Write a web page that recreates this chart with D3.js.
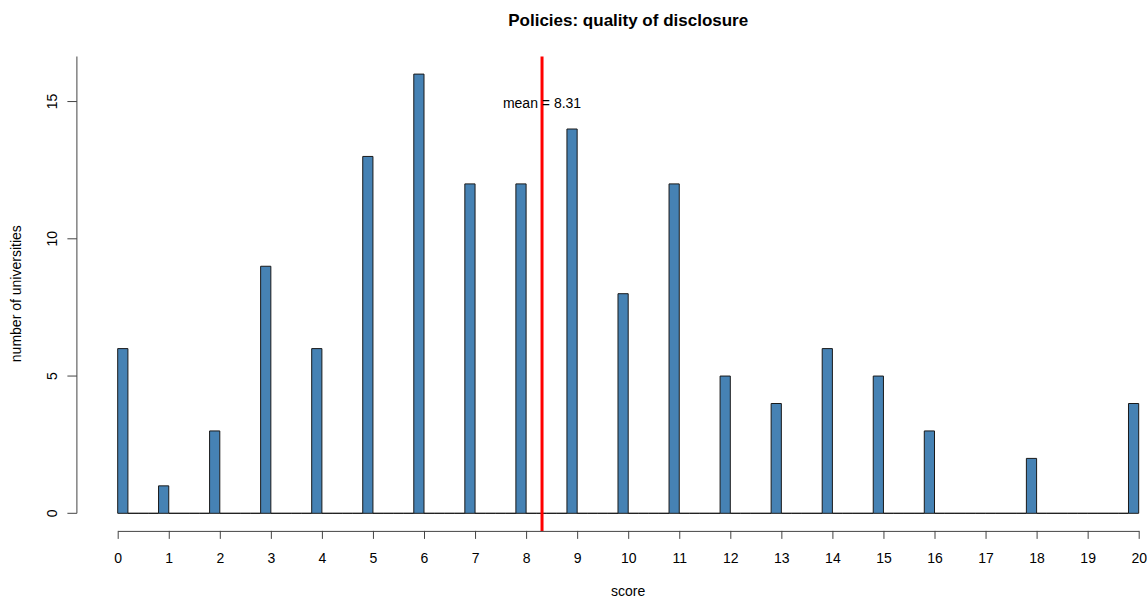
<!DOCTYPE html>
<html>
<head>
<meta charset="utf-8">
<script src="https://cdn.jsdelivr.net/npm/d3@7/dist/d3.min.js"></script>
<style>
  html, body { margin: 0; padding: 0; background: #ffffff; }
  svg { display: block; font-family: "Liberation Sans", Arial, Helvetica, sans-serif; }
</style>
</head>
<body>
<svg id="chart" width="1147" height="599"></svg>
<script>
// Disclosure-quality scores and how many universities got each one
const scores = [0, 1, 2, 3, 4, 5, 6, 7, 8, 9, 10, 11, 12, 13, 14, 15, 16, 17, 18, 19, 20];
const counts = [6, 1, 3, 9, 6, 13, 16, 12, 12, 14, 8, 12, 5, 4, 6, 5, 3, 0, 2, 0, 4];
const xTicks = [0, 1, 2, 3, 4, 5, 6, 7, 8, 9, 10, 11, 12, 13, 14, 15, 16, 17, 18, 19, 20];
const yTicks = [0, 5, 10, 15];
const binWidth = 0.2;

const titleText = "Policies: quality of disclosure";
const xLabel = "score";
const yLabel = "number of universities";

const svg = d3.select("#chart");

// Plot area
const plotTop = 56.5, plotBottom = 530.9, plotLeft = 76.9;
const x = d3.scaleLinear().domain([0, 20]).range([117.7, 1138.7]);
const y = d3.scaleLinear().domain([0, 16]).range([513.3, 74.1]);

// Histogram bins of width 0.2, right-closed (first bin also holds 0)
const nBins = Math.round(20 / binWidth);
const bins = d3.range(nBins).map(j => ({ x0: j * binWidth, x1: (j + 1) * binWidth, n: 0 }));
scores.forEach((s, i) => {
  const j = s === 0 ? 0 : Math.round(s / binWidth) - 1;
  bins[j].n += counts[i];
});

svg.append("g")
  .selectAll("path")
  .data(bins)
  .join("path")
  .attr("d", b => {
    const x0 = x(b.x0), x1 = x(b.x1), y0 = y(0), y1 = y(b.n);
    return `M${x0},${y0}V${y1}H${x1}V${y0}Z`;
  })
  .attr("fill", "#4682B4")
  .attr("stroke", "#1a1a1a")
  .attr("stroke-width", 1);

// Mean line
const total = d3.sum(counts);
const mean = d3.sum(scores, (s, i) => s * counts[i]) / total;
svg.append("line")
  .attr("x1", x(mean)).attr("x2", x(mean))
  .attr("y1", plotTop).attr("y2", plotBottom)
  .attr("stroke", "#ff0000")
  .attr("stroke-width", 3);

svg.append("text")
  .attr("x", x(mean))
  .attr("y", y(15) + 6.5)
  .attr("text-anchor", "middle")
  .attr("font-size", 14)
  .attr("fill", "#000")
  .text("mean = " + mean.toFixed(2));

// X axis
const xAxis = svg.append("g")
  .attr("transform", `translate(0,${plotBottom})`)
  .call(d3.axisBottom(x).tickValues(xTicks).tickSize(8).tickSizeOuter(0).tickPadding(14)
    .tickFormat(d3.format("d")));
xAxis.select(".domain").attr("stroke", "#444");
xAxis.selectAll(".tick line").attr("stroke", "#444");
xAxis.selectAll(".tick text").attr("font-size", 14).attr("fill", "#000")
  .attr("font-family", "Liberation Sans, Arial, sans-serif");

// Y axis (line runs from 0 up to the top of the plot area)
const yAxis = svg.append("g")
  .attr("transform", `translate(${plotLeft},0)`);
yAxis.append("line")
  .attr("x1", 0).attr("x2", 0)
  .attr("y1", y(0)).attr("y2", plotTop)
  .attr("stroke", "#444");
yAxis.selectAll("line.tick")
  .data(yTicks)
  .join("line")
  .attr("class", "tick")
  .attr("x1", -9.5).attr("x2", 0)
  .attr("y1", d => y(d)).attr("y2", d => y(d))
  .attr("stroke", "#444");
svg.append("g")
  .selectAll("text")
  .data(yTicks)
  .join("text")
  .attr("transform", d => `translate(57,${y(d)}) rotate(-90)`)
  .attr("text-anchor", "middle")
  .attr("font-size", 14)
  .attr("fill", "#000")
  .text(d => d);

// Titles
svg.append("text")
  .attr("x", (x(0) + x(20)) / 2)
  .attr("y", 26)
  .attr("text-anchor", "middle")
  .attr("font-size", 17)
  .attr("font-weight", "bold")
  .attr("fill", "#000")
  .text(titleText);

svg.append("text")
  .attr("x", (x(0) + x(20)) / 2)
  .attr("y", 596)
  .attr("text-anchor", "middle")
  .attr("font-size", 14)
  .attr("fill", "#000")
  .text(xLabel);

svg.append("text")
  .attr("transform", `translate(21,${(plotTop + plotBottom) / 2}) rotate(-90)`)
  .attr("text-anchor", "middle")
  .attr("font-size", 14)
  .attr("fill", "#000")
  .text(yLabel);
</script>
</body>
</html>
